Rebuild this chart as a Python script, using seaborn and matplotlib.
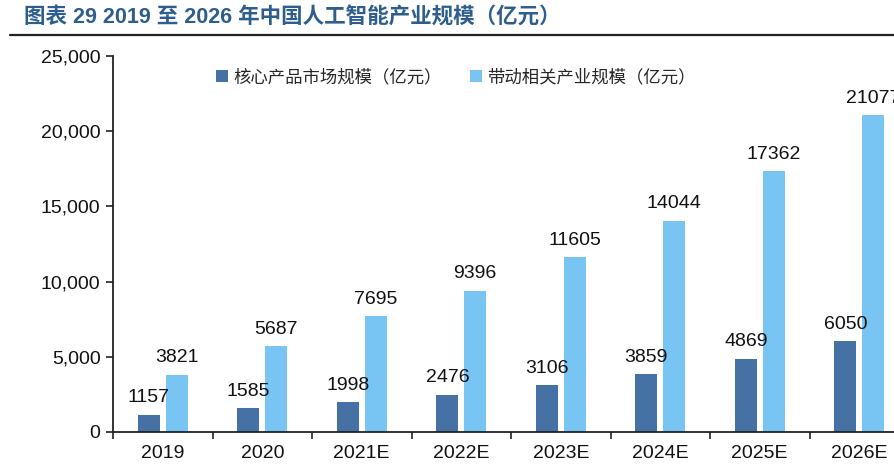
import matplotlib
matplotlib.use("Agg")
import matplotlib.pyplot as plt
import seaborn as sns
import pandas as pd
from matplotlib.ticker import FuncFormatter, FixedLocator
from matplotlib.lines import Line2D

years = ["2019", "2020", "2021E", "2022E", "2023E", "2024E", "2025E", "2026E"]
core = [1157, 1585, 1998, 2476, 3106, 3859, 4869, 6050]
related = [3821, 5687, 7695, 9396, 11605, 14044, 17362, 21077]
series_names = ["核心产品市场规模（亿元）", "带动相关产业规模（亿元）"]
title = "图表 29 2019 至 2026 年中国人工智能产业规模（亿元）"
colors = ["#4671A5", "#78C4F3"]

sns.set_theme(style="white")
plt.rcParams['font.family'] = ['Liberation Sans', 'Noto Sans CJK SC', 'DejaVu Sans']

df = pd.DataFrame({
    "year": years * 2,
    "value": core + related,
    "series": [series_names[0]] * len(years) + [series_names[1]] * len(years),
})

fig = plt.figure(figsize=(8.94, 4.67), dpi=100)
W, H = 894, 467
ax = fig.add_axes([113 / W, 35 / H, 8 * 99.5 / W, (432 - 56) / H])

sns.barplot(data=df, x="year", y="value", hue="series", palette=colors,
            width=0.56, gap=0.21, ax=ax, saturation=1, edgecolor="none", legend=True)

for c in ax.containers:
    ax.bar_label(c, labels=[f"{int(v)}" for v in c.datavalues], padding=6,
                 fontsize=14, color="#111111")

ax.set_ylim(0, 25000)
ax.set_xlim(-0.5, 7.5)
ax.set_yticks(range(0, 25001, 5000))
ax.yaxis.set_major_formatter(FuncFormatter(lambda v, p: f"{int(v):,}"))
ax.set_xlabel("")
ax.set_ylabel("")
ax.tick_params(axis="y", which="major", direction="out", length=5, width=1.2,
               labelsize=14, left=True, color="#222222", labelcolor="#111111", pad=4)
ax.tick_params(axis="x", which="major", length=0, labelsize=14, labelcolor="#111111", pad=9)
ax.xaxis.set_minor_locator(FixedLocator([i - 0.5 for i in range(len(years) + 1)]))
ax.tick_params(axis="x", which="minor", direction="out", length=5, width=1.2,
               bottom=True, color="#222222")

for s in ["top", "right"]:
    ax.spines[s].set_visible(False)
for s in ["left", "bottom"]:
    ax.spines[s].set_color("#222222")
    ax.spines[s].set_linewidth(1.3)

handles, labels = ax.get_legend_handles_labels()
ax.legend(handles, labels, loc="upper left", bbox_to_anchor=(0.11, 1.01), ncol=2,
          frameon=False, handlelength=0.7, handleheight=0.7,
          handletextpad=0.3, columnspacing=1.6,
          prop={"family": ["Noto Sans CJK SC"], "size": 12.5})

fig.text(24 / W, 1 - 18 / H, title, fontsize=15.5, fontweight="bold", color="#2E5E8E",
         va="center", ha="left", family=["Liberation Sans", "Noto Sans CJK SC"])
fig.add_artist(Line2D([10 / W, 1], [1 - 35 / H, 1 - 35 / H], transform=fig.transFigure,
                      color="#222222", lw=1.6))

fig.savefig("out.png", dpi=100)
